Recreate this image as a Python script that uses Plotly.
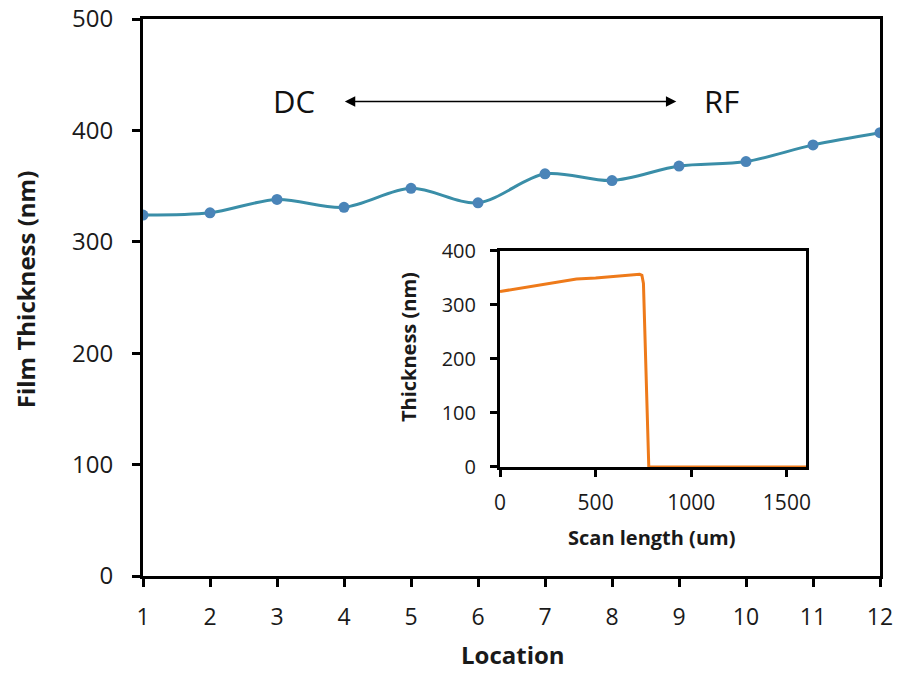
import plotly.graph_objects as go

# Film thickness measured at each location across the substrate
locations = [1, 2, 3, 4, 5, 6, 7, 8, 9, 10, 11, 12]
thickness_nm = [324, 326, 338, 331, 348, 335, 361, 355, 368, 372, 387, 398]

# Profilometer step scan (inset)
scan_um = [0, 100, 200, 300, 400, 500, 600, 700, 730, 742, 750, 778, 790, 1000, 1300, 1600]
scan_thickness = [325, 331, 337, 343, 348, 350, 353, 356, 357, 355, 340, 0, 0, 0, 0, 0]

main_ticks = [0, 100, 200, 300, 400, 500]
inset_yticks = [0, 100, 200, 300, 400]
inset_xticks = [0, 500, 1000, 1500]

FONT = "Open Sans"
TXT = "#1a1a1a"

fig = go.Figure()

fig.add_trace(go.Scatter(
    x=locations, y=thickness_nm, mode="lines+markers",
    line=dict(color="#3A8EA8", width=3, shape="spline", smoothing=0.9),
    marker=dict(color="#4A84B8", size=11),
    xaxis="x", yaxis="y", showlegend=False,
))

fig.add_trace(go.Scatter(
    x=scan_um, y=scan_thickness, mode="lines",
    line=dict(color="#EE7A1A", width=3),
    xaxis="x2", yaxis="y2", showlegend=False,
))

axis_common = dict(showline=True, linecolor="black", linewidth=3, mirror=True,
                   showgrid=False, zeroline=False, ticks="outside",
                   tickcolor="black", tickwidth=3, automargin=False)

fig.update_layout(
    width=898, height=673,
    margin=dict(l=143, r=18, t=19, b=97),
    paper_bgcolor="white", plot_bgcolor="white",
    font=dict(family=FONT, color=TXT),
    xaxis=dict(**axis_common, range=[1, 12], tickvals=locations, ticklen=8,
               ticklabelstandoff=10, tickfont=dict(size=23), domain=[0, 1]),
    yaxis=dict(**axis_common, range=[0, 500], tickvals=main_ticks, ticklen=8,
               ticklabelstandoff=14, tickfont=dict(size=24), domain=[0, 1]),
    xaxis2=dict(**axis_common, range=[0, 1600], tickvals=inset_xticks, ticklen=7,
                ticklabelstandoff=8, tickfont=dict(size=21),
                domain=[0.4844, 0.8996], anchor="y2"),
    yaxis2=dict(**axis_common, range=[0, 400], tickvals=inset_yticks, ticklen=7,
                ticklabelstandoff=10, tickfont=dict(size=20),
                domain=[0.1957, 0.5835], anchor="x2"),
)

title_common = dict(xref="paper", yref="paper", showarrow=False,
                    xanchor="center", yanchor="middle")
annotations = [
    dict(**title_common, text="<b>Film Thickness (nm)</b>", x=-0.160, y=0.515,
         textangle=-90, font=dict(size=24, color=TXT)),
    dict(**title_common, text="<b>Location</b>", x=0.502, y=-0.141,
         font=dict(size=24, color=TXT)),
    dict(**title_common, text="<b>Thickness (nm)</b>", x=0.3596, y=0.411,
         textangle=-90, font=dict(size=20, color=TXT)),
    dict(**title_common, text="<b>Scan length (um)</b>", x=0.6906, y=0.070,
         font=dict(size=20, color=TXT)),
    dict(text="DC", xref="x", yref="y", x=3.25, y=426, showarrow=False,
         font=dict(size=31, color="#111111")),
    dict(text="RF", xref="x", yref="y", x=9.64, y=426, showarrow=False,
         font=dict(size=31, color="#111111")),
    dict(x=8.96, y=426, ax=3.99, ay=426, xref="x", yref="y", axref="x", ayref="y",
         text="", showarrow=True, arrowhead=2, arrowside="end+start",
         arrowsize=1.3, arrowwidth=1.6, arrowcolor="black"),
]
fig.update_layout(annotations=annotations)

fig.write_html("out.html")
